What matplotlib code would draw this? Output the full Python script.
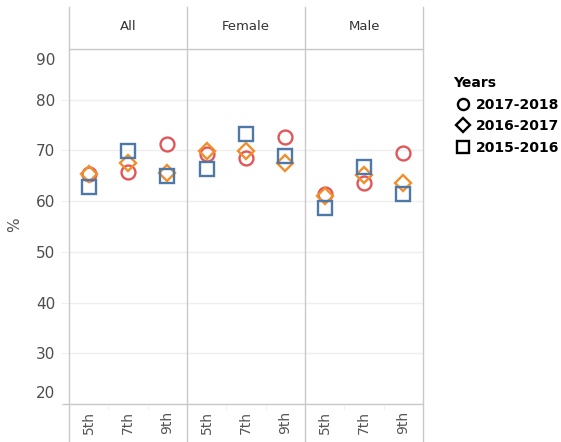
#!/usr/bin/env python3
"""Dot plot of % by grade, split into All / Female / Male panels."""

import matplotlib

matplotlib.use("Agg")
import matplotlib.pyplot as plt
import matplotlib.transforms as mtransforms
from matplotlib.lines import Line2D

W, H = 561, 442

panels = ["All", "Female", "Male"]
grades = ["5th", "7th", "9th"]
years = ["2017-2018", "2016-2017", "2015-2016"]

# values per panel, grades in order 5th, 7th, 9th
y2017_2018 = {"All": [65.4, 65.8, 71.2], "Female": [69.2, 68.6, 72.7], "Male": [61.5, 63.5, 69.5]}
y2016_2017 = {"All": [65.4, 67.6, 65.6], "Female": [69.9, 69.9, 67.6], "Male": [61.0, 65.2, 63.6]}
y2015_2016 = {"All": [62.7, 69.9, 65.0], "Female": [66.4, 73.2, 68.9], "Male": [58.6, 66.7, 61.4]}

series = [
    (y2017_2018, "o", "#e15759"),
    (y2016_2017, "D", "#f28e2b"),
    (y2015_2016, "s", "#4e79a7"),
]

GRID = "#efefef"
BORDER = "#c9c9c9"
TXT = "#555555"


def fx(px):
    return px / W


def fy(py):
    return 1 - py / H


fig = plt.figure(figsize=(W / 100, H / 100), dpi=100)

left0, pw = 69, 118
top, bottom = 49, 404

for i, name in enumerate(panels):
    ax = fig.add_axes([fx(left0 + i * pw), fy(bottom), pw / W, (bottom - top) / H])
    ax.set_xlim(-0.5, 2.5)
    ax.set_ylim(20, 90)
    ax.set_yticks(range(20, 91, 10))
    ax.grid(axis="y", color=GRID, lw=1)
    ax.set_axisbelow(True)
    for s in ax.spines.values():
        s.set_visible(False)
    ax.set_xticks(range(len(grades)))
    ax.set_xticklabels(grades, rotation=90, fontsize=10, color=TXT)
    ax.tick_params(axis="x", length=0, pad=5)
    ax.set_xticks([0.5, 1.5], minor=True)
    ax.tick_params(axis="x", which="minor", length=4, color=GRID, direction="out")
    for data, mk, col in series:
        ax.plot(range(len(grades)), data[name], ls="none", marker=mk,
                ms=10 if mk != "D" else 8, mfc="none", mec=col, mew=1.7)
    if i == 0:
        ax.tick_params(axis="y", length=6, color=GRID, labelsize=11, labelcolor="#4d4d4d", pad=4)
        ax.yaxis.get_major_ticks()[-1].tick1line.set_visible(False)
        labels = ax.get_yticklabels()
        labels[0].set_verticalalignment("bottom")
        labels[0].set_transform(labels[0].get_transform() +
                                mtransforms.ScaledTranslation(0, 3 / 100, fig.dpi_scale_trans))
        labels[-1].set_verticalalignment("top")
        labels[-1].set_transform(labels[-1].get_transform() +
                                 mtransforms.ScaledTranslation(0, -4 / 100, fig.dpi_scale_trans))
    else:
        ax.tick_params(axis="y", left=False, labelleft=False)
    fig.text(fx(left0 + i * pw + pw / 2), fy(27), name, ha="center", va="center",
             fontsize=9.5, color="#333333")

fig.text(fx(15), fy(225), "%", rotation=90, ha="center", va="center", fontsize=11, color=TXT)

# panel frame lines
for k in range(4):
    x = fx(left0 + k * pw)
    fig.add_artist(Line2D([x, x], [fy(7), 0], color=BORDER, lw=1))
fig.add_artist(Line2D([fx(left0), fx(left0 + 3 * pw)], [fy(top), fy(top)], color=BORDER, lw=1))
fig.add_artist(Line2D([fx(63), fx(left0 + 3 * pw)], [fy(bottom), fy(bottom)], color=BORDER, lw=1))

handles = [Line2D([], [], ls="none", marker=mk, ms=8 if mk != "D" else 7, mfc="none",
                  mec="black", mew=1.7) for _, mk, _ in series]
leg = fig.legend(handles, years, title="Years", loc="upper left",
                 bbox_to_anchor=(fx(453), fy(76)), frameon=False, alignment="left",
                 handlelength=1.4, handletextpad=0.25, labelspacing=0.55, borderpad=0,
                 borderaxespad=0,
                 prop={"size": 10, "weight": "bold"},
                 title_fontproperties={"size": 10, "weight": "bold"})

fig.savefig("out.png", dpi=100)
